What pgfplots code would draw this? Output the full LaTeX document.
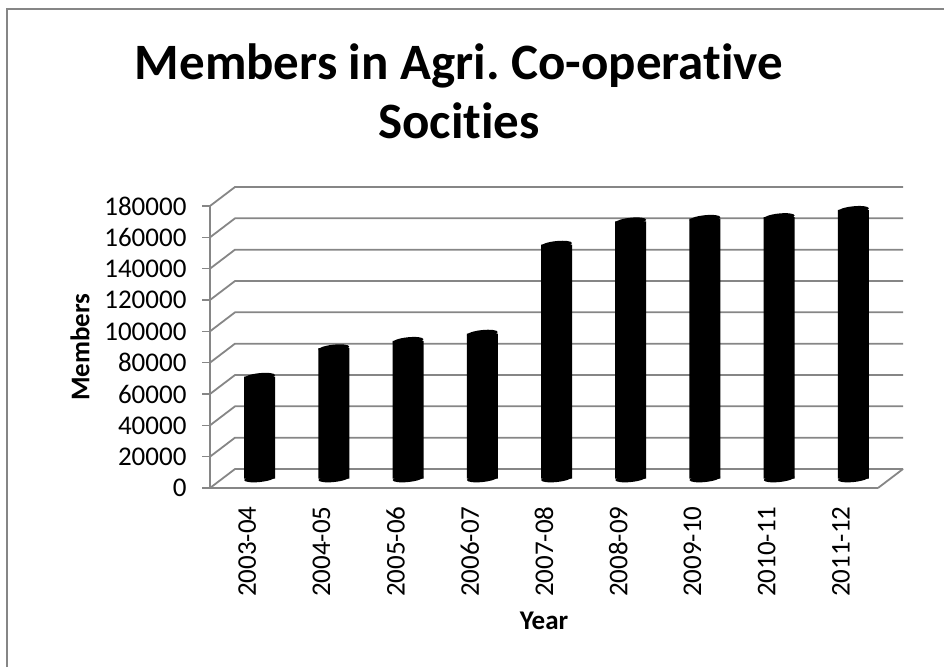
\documentclass[border=0pt]{standalone}
\usepackage{pgfplots}
\usepackage{pgfplotstable}
\pgfplotsset{compat=1.18}
\usepackage{fontspec}
\setmainfont[Ligatures=NoCommon]{Carlito}
\frenchspacing
\definecolor{gridgray}{HTML}{868686}

% flat cylinder end, slightly tilted
\pgfdeclareplotmark{capell}{%
  \pgfpathellipse{\pgfpointorigin}{\pgfqpoint{15.4pt}{1.6pt}}{\pgfqpoint{-0.4pt}{3.5pt}}%
  \pgfusepathqfill
}

\pgfplotstableread{
x members base
0 65000 0
1 83200 0
2 87900 0
3 92500 0
4 149300 0
5 164200 0
6 165800 0
7 166900 0
8 171500 0
}\membertable

\begin{document}
\begin{tikzpicture}[x=1pt,y=1pt]
\useasboundingbox (0,0) rectangle (944,667);
\draw[gridgray,line width=2pt] (7,0) -- (7,658) -- (944,658);

\begin{axis}[
    at={(210pt,179pt)},
    anchor=south west,
    scale only axis,
    width=668pt,
    height=282pt,
    xmin=-0.5, xmax=8.5,
    ymin=0, ymax=180000,
    clip=false,
    axis x line=bottom,
    axis y line=left,
    axis line style={-,gridgray,line width=1.8pt},
    xtick={0,1,2,3,4,5,6,7,8},
    xticklabels={2003-04,2004-05,2005-06,2006-07,2007-08,2008-09,2009-10,2010-11,2011-12},
    x tick style={draw=none},
    ytick={0,20000,40000,60000,80000,100000,120000,140000,160000,180000},
    y tick style={gridgray,line width=1.4pt},
    major tick length=8pt,
    tick align=outside,
    scaled y ticks=false,
    /pgf/number format/fixed,
    /pgf/number format/1000 sep={},
    /pgf/number format/assume math mode=true,
    tick label style={font=\fontsize{27}{27}\selectfont,text=black},
    xticklabel style={rotate=90,anchor=east,xshift=-7pt},
    yticklabel style={anchor=east,xshift=-12pt},
    xlabel={\bfseries Year},
    xlabel style={font=\fontsize{27}{27}\selectfont,at={(axis description cs:0.5,0)},anchor=center,yshift=-133pt},
    ylabel={\bfseries Members},
    ylabel style={font=\fontsize{27}{27}\selectfont,at={(axis description cs:0,0.5)},anchor=center,yshift=130pt},
]
% back wall and floor
\pgfplotsinvokeforeach{0,20000,40000,60000,80000,100000,120000,140000,160000,180000}{
  \draw[gridgray,line width=1.8pt]
    (axis cs:-0.5,#1) -- ([shift={(25pt,19pt)}]axis cs:-0.5,#1)
    -- ([shift={(25pt,19pt)}]axis cs:8.5,#1);
}
\draw[gridgray,line width=1.8pt]
  (axis cs:8.5,0) -- ([shift={(25pt,19pt)}]axis cs:8.5,0);
\end{axis}

% cylinders stand half way into the floor
\begin{axis}[
    at={(222.5pt,188.5pt)},
    anchor=south west,
    scale only axis,
    width=668pt,
    height=282pt,
    xmin=-0.5, xmax=8.5,
    ymin=0, ymax=180000,
    clip=false,
    hide axis,
]
\addplot[ybar,bar width=31pt,fill=black,draw=none] table[x=x,y=members] {\membertable};
\addplot[only marks,mark=capell,black] table[x=x,y=members] {\membertable};
\addplot[only marks,mark=capell,black] table[x=x,y=base] {\membertable};
\end{axis}

\node[font=\fontsize{51}{59}\selectfont\bfseries,align=center,anchor=center] at (459,576)
  {Members in Agri. Co-operative\\Socities};
\end{tikzpicture}
\end{document}
